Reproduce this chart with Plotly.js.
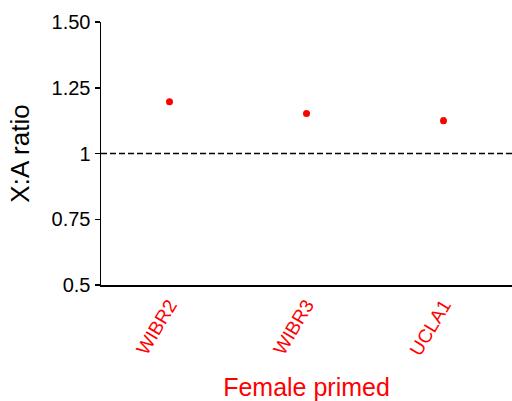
<!DOCTYPE html>
<html><head><meta charset="utf-8">
<script src="https://cdn.plot.ly/plotly-3.0.1.min.js"></script>
<style>html,body{margin:0;padding:0;background:#fff}#chart{width:512px;height:401px}</style>
</head><body><div id="chart"></div>
<script>
const categories = ["WIBR2", "WIBR3", "UCLA1"];
const ratios = [1.197, 1.152, 1.125];
const errors = [0.004, 0.004, 0.01];
const refLevel = 1;
const yTickVals = [0.5, 0.75, 1, 1.25, 1.5];
const yTickText = ["0.5", "0.75", "1", "1.25", "1.50"];

const font = "Liberation Sans, Arial, Helvetica, sans-serif";
const traces = [
  {
    type: "scatter", mode: "markers",
    x: categories, y: ratios,
    error_y: {type: "data", array: errors, visible: true, color: "#777", thickness: 1.5, width: 2},
    marker: {color: "#ff0000", size: 7},
    showlegend: false, hoverinfo: "x+y"
  }
];
const layout = {
  width: 512, height: 401,
  margin: {l: 101, r: 0, t: 22, b: 116},
  paper_bgcolor: "#fff", plot_bgcolor: "#fff",
  font: {family: font, color: "#000"},
  xaxis: {
    type: "category", range: [-0.5, 2.5],
    showline: true, linecolor: "#000", linewidth: 1.5,
    showgrid: false, zeroline: false, ticks: "",
    tickangle: -59, tickfont: {color: "#ff0000", size: 19, family: font},
    title: {text: "Female primed", font: {color: "#ff0000", size: 25, family: font}, standoff: 20}
  },
  yaxis: {
    range: [0.5, 1.5],
    tickvals: yTickVals, ticktext: yTickText,
    showline: true, linecolor: "#000", linewidth: 1.5,
    showgrid: false, zeroline: false,
    ticks: "outside", ticklen: 5, tickcolor: "#000", tickwidth: 1.5,
    tickfont: {size: 20, family: font},
    title: {text: "X:A ratio", font: {size: 26, family: font}, standoff: 14}
  },
  shapes: [{
    type: "line", xref: "paper", x0: 0, x1: 1, yref: "y", y0: refLevel, y1: refLevel,
    line: {color: "#000", width: 1.6, dash: "6px,3px"}
  }]
};
Plotly.newPlot("chart", traces, layout, {displayModeBar: false, staticPlot: true});
</script>
</body></html>
